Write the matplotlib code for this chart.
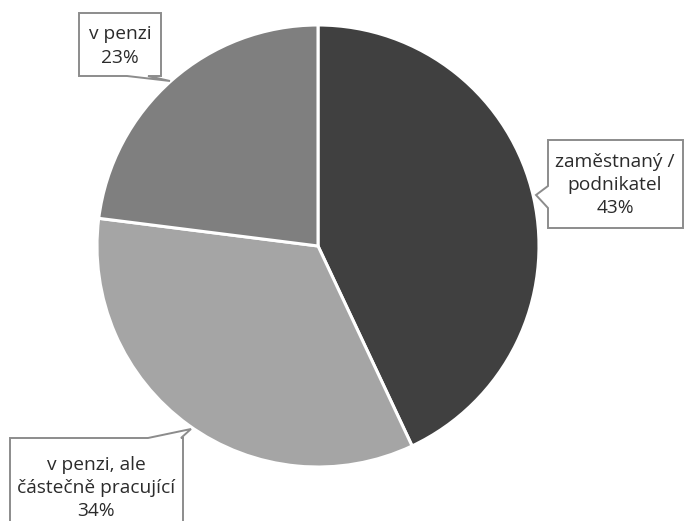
import matplotlib.pyplot as plt
from matplotlib.patches import Polygon

# status of respondents
labels = ["zaměstnaný /\npodnikatel", "v penzi, ale\nčástečně pracující", "v penzi"]
shares = [43, 34, 23]
colors = ["#404040", "#a5a5a5", "#7f7f7f"]

W, H = 686, 521
TEXT = "#2b2b2b"
BOX = "#8c8c8c"

plt.rcParams["font.family"] = ["Open Sans", "DejaVu Sans"]

fig = plt.figure(figsize=(W / 100, H / 100), dpi=100)
ax = fig.add_axes([0, 0, 1, 1])

ax.pie(shares, colors=colors, startangle=90, counterclock=False,
       center=(318, H - 246), radius=221,
       wedgeprops=dict(edgecolor="white", linewidth=2.2))

ax.set_xlim(0, W)
ax.set_ylim(0, H)
ax.set_aspect("equal")
ax.axis("off")


def callout(outline, text_xy, text):
    # speech-bubble outline given in pixel coords (y down)
    pts = [(x, H - y) for x, y in outline]
    ax.add_patch(Polygon(pts, closed=True, facecolor="white", edgecolor=BOX,
                         linewidth=1.4, joinstyle="miter", zorder=3))
    ax.text(text_xy[0], H - text_xy[1], text, ha="center", va="center",
            fontsize=13.8, color=TEXT, linespacing=1.36, zorder=4)


# zaměstnaný / podnikatel
callout([(548, 140), (683, 140), (683, 228), (548, 228), (548, 208),
         (536, 195), (548, 186)],
        (615, 185), f"{labels[0]}\n{shares[0]}%")

# v penzi, ale částečně pracující
callout([(10, 438), (148, 438), (191, 429), (181, 438), (183, 438),
         (183, 530), (10, 530)],
        (96, 488), f"{labels[1]}\n{shares[1]}%")

# v penzi
callout([(79, 13), (161, 13), (161, 76), (148, 76), (170, 81),
         (127, 76), (79, 76)],
        (120, 46), f"{labels[2]}\n{shares[2]}%")

fig.savefig("out.png", dpi=100, facecolor="white")
